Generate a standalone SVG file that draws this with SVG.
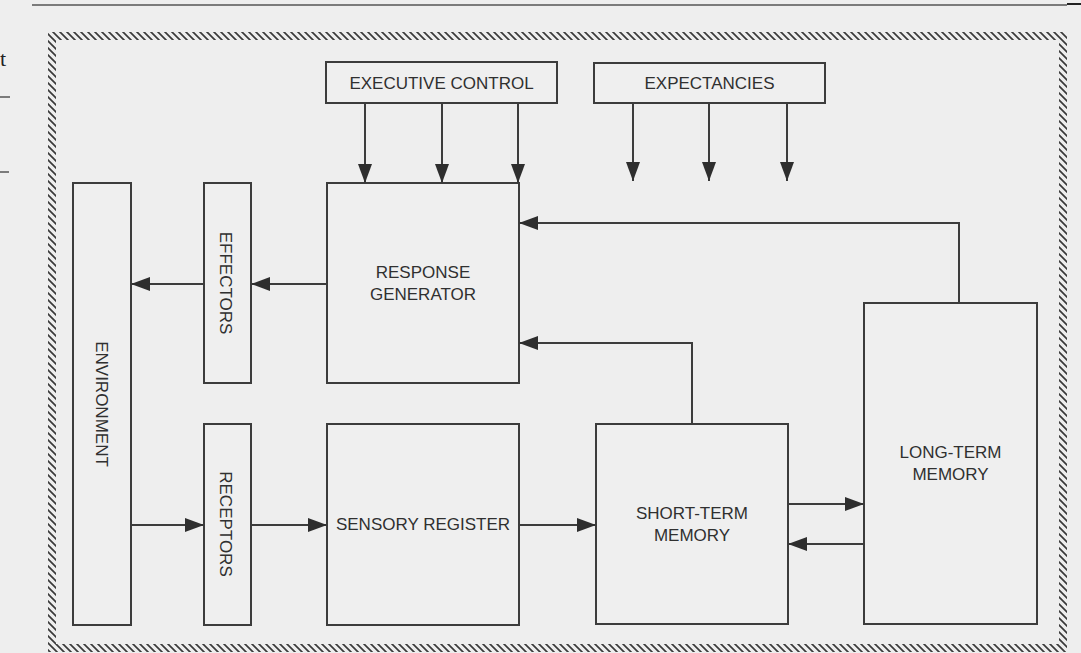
<svg xmlns="http://www.w3.org/2000/svg" width="1081" height="653" viewBox="0 0 1081 653">
  <defs>
    <pattern id="hatch" patternUnits="userSpaceOnUse" width="7" height="7">
      <path d="M-1,-1 L8,8 M-2,5 L2,9 M5,-2 L9,2" stroke="#3a3a3a" stroke-width="1.7" fill="none"/>
    </pattern>
    <marker id="arrow" markerUnits="userSpaceOnUse" markerWidth="20" markerHeight="14" refX="19" refY="7" orient="auto">
      <path d="M0,0 L19,7 L0,14 z" fill="#2e2e2e"/>
    </marker>
    <style>
      .box { fill: #efefef; stroke: #3c3c3c; stroke-width: 2; }
      .lbl { font-family: "Liberation Sans", Arial, sans-serif; font-size: 17px; fill: #303030; text-anchor: middle; }
      .conn path { fill: none; stroke: #3c3c3c; stroke-width: 2; marker-end: url(#arrow); }
      .page { stroke: #555; stroke-width: 1.5; fill: none; }
    </style>
  </defs>

  <rect x="0" y="0" width="1081" height="653" fill="#eeeeee"/>

  <!-- page artifacts -->
  <g id="page-marks">
    <path class="page" d="M32,5 H1067"/>
    <path d="M1067,4 H1081" stroke="#222" stroke-width="2"/>
    <path class="page" d="M0,97 H10 M0,172 H9"/>
    <text x="0" y="66" font-family="'Liberation Serif', serif" font-size="22" fill="#222222">t</text>
  </g>

  <!-- hatched frame -->
  <g id="frame">
    <path fill="url(#hatch)" fill-rule="evenodd" d="M48,32 H1067 V652 H48 Z M56,40 V644 H1059 V40 Z"/>
  </g>

  <g id="executive-control">
    <rect class="box" x="326" y="62" width="231" height="41"/>
    <text class="lbl" x="441.5" y="89">EXECUTIVE CONTROL</text>
  </g>
  <g id="expectancies">
    <rect class="box" x="594" y="63" width="231" height="40"/>
    <text class="lbl" x="709.5" y="89">EXPECTANCIES</text>
  </g>
  <g id="response-generator">
    <rect class="box" x="327" y="183" width="192" height="200"/>
    <text class="lbl" x="423" y="278">RESPONSE</text>
    <text class="lbl" x="423" y="300">GENERATOR</text>
  </g>
  <g id="environment">
    <rect class="box" x="73" y="183" width="58" height="442"/>
    <text class="lbl" transform="translate(96,404) rotate(90)" x="0" y="0">ENVIRONMENT</text>
  </g>
  <g id="effectors">
    <rect class="box" x="204" y="183" width="47" height="200"/>
    <text class="lbl" transform="translate(220,283) rotate(90)" x="0" y="0">EFFECTORS</text>
  </g>
  <g id="receptors">
    <rect class="box" x="204" y="424" width="47" height="201"/>
    <text class="lbl" transform="translate(220,524) rotate(90)" x="0" y="0">RECEPTORS</text>
  </g>
  <g id="sensory-register">
    <rect class="box" x="327" y="424" width="192" height="201"/>
    <text class="lbl" x="423" y="530">SENSORY REGISTER</text>
  </g>
  <g id="short-term-memory">
    <rect class="box" x="596" y="424" width="192" height="200"/>
    <text class="lbl" x="692" y="519">SHORT-TERM</text>
    <text class="lbl" x="692" y="541">MEMORY</text>
  </g>
  <g id="long-term-memory">
    <rect class="box" x="864" y="303" width="173" height="321"/>
    <text class="lbl" x="950.5" y="458">LONG-TERM</text>
    <text class="lbl" x="950.5" y="480">MEMORY</text>
  </g>

  <g id="connectors" class="conn">
    <path d="M365,103 V183"/>
    <path d="M442,103 V183"/>
    <path d="M518,103 V183"/>
    <path d="M633,103 V181"/>
    <path d="M709,103 V181"/>
    <path d="M787,103 V181"/>
    <path d="M327,284 H251"/>
    <path d="M204,284 H131"/>
    <path d="M131,525 H204"/>
    <path d="M251,525 H327"/>
    <path d="M519,525 H596"/>
    <path d="M788,504 H864"/>
    <path d="M864,544 H788"/>
    <path d="M959,303 V223 H519"/>
    <path d="M692,424 V343 H519"/>
  </g>
</svg>
